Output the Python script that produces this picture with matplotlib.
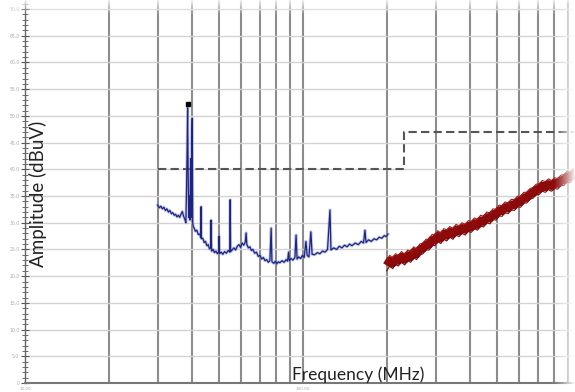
import numpy as np
import matplotlib
matplotlib.use("Agg")
import matplotlib.pyplot as plt
from matplotlib.ticker import FixedLocator, NullFormatter, FixedFormatter

# ---- data ----
blue_freq = [30.0, 30.4, 30.8, 31.2, 31.6, 32.0, 32.4, 32.8, 33.2, 33.6, 34.0, 34.4,
             34.8, 35.2, 35.6, 36.0, 36.4, 36.8, 37.2, 37.6, 37.9,
             38.1, 38.3, 38.45, 38.6, 38.8, 39.0, 39.2, 39.4, 39.6, 39.8, 39.95, 40.1, 40.3,
             40.6, 41.0, 41.5, 42.0, 42.5, 42.9, 43.0, 43.1, 43.6, 44.1, 44.6, 45.1,
             45.6, 46.1, 46.5, 46.7, 46.9, 47.5, 48.0, 48.6, 49.2, 49.8, 49.9, 50.1,
             50.8, 51.5, 52.2, 53.0, 53.8, 54.5, 54.7, 54.9, 55.6, 56.4, 57.2, 58.0,
             58.8, 59.6, 60.4, 61.2, 62.0, 62.4, 62.8, 63.6, 64.4, 65.2, 66.0, 67.0,
             68.0, 69.0, 70.0, 71.0, 72.0, 73.0, 74.0, 75.0, 76.0, 76.8, 77.3, 78.5,
             79.5, 80.5, 81.5, 82.5, 84.0, 85.5, 87.0, 88.0, 88.7, 89.3, 90.5, 92.0,
             93.5, 94.4, 95.2, 96.5, 98.0, 99.5, 101.0, 102.4, 103.5, 105.0, 106.7,
             107.8, 110.0, 112.5, 115.0, 117.5, 120.0, 122.5, 125.0, 126.0, 129.0,
             132.0, 135.0, 138.0, 141.0, 144.0, 147.0, 150.0, 154.0, 158.0, 162.0,
             165.0, 167.0, 168.5, 172.0, 176.0, 180.0, 184.0, 188.0, 192.0, 196.0,
             199.0, 202.0]
blue_level = [33.3, 32.8, 33.1, 32.6, 32.9, 32.3, 32.6, 32.0, 32.3, 31.7, 31.9, 31.4,
              31.6, 31.1, 31.4, 31.0, 31.6, 32.1, 31.2, 30.6, 30.0,
              36.0, 44.0, 51.5, 40.0, 31.0, 35.0, 30.5, 42.0, 31.0, 46.0, 49.5, 30.0, 29.3,
              29.0, 28.4, 28.6, 27.8, 27.9, 27.2, 33.0, 27.0, 27.1, 26.3, 26.5, 25.7,
              25.9, 25.1, 25.3, 30.5, 24.7, 25.0, 24.4, 24.7, 24.2, 24.6, 27.5, 24.2,
              24.5, 24.1, 24.6, 24.3, 24.8, 24.5, 34.3, 24.6, 24.9, 25.3, 24.9, 25.6,
              25.9, 25.4, 26.2, 25.8, 26.4, 28.1, 25.9, 25.3, 25.5, 24.8, 25.0, 24.3,
              24.5, 23.7, 23.9, 23.2, 23.5, 22.9, 23.1, 22.6, 22.9, 29.0, 22.7, 22.4,
              22.8, 22.3, 22.7, 22.5, 22.9, 22.6, 23.1, 22.8, 24.5, 22.9, 23.3, 23.0,
              23.5, 27.7, 23.2, 23.6, 23.3, 23.9, 23.5, 26.5, 23.9, 23.6, 28.3,
              24.1, 24.0, 24.4, 24.2, 24.7, 24.5, 25.0, 32.4, 24.9, 25.3,
              25.0, 25.6, 25.3, 25.8, 25.5, 26.0, 25.7, 26.2, 25.9, 26.5,
              26.2, 28.6, 26.3, 26.8, 26.5, 27.0, 26.8, 27.3, 27.1, 27.6,
              27.4, 27.9]

red_freq = [200, 205, 210, 215, 220, 226, 232, 238, 244, 250, 256, 263, 270, 277,
            284, 291, 298, 305, 313, 321, 329, 337, 346, 355, 364, 373, 383, 393,
            403, 413, 424, 435, 446, 458, 470, 482, 494, 507, 520, 533, 547, 561,
            576, 591, 606, 622, 638, 655, 672, 689, 707, 725, 744, 763, 783, 803,
            824, 846, 868, 890, 913, 937, 961, 986, 1011]
red_level = [22.0, 22.9, 22.4, 23.2, 22.9, 23.6, 23.1, 23.9, 23.6, 24.5, 24.1, 25.0,
             25.2, 25.9, 25.9, 26.8, 26.7, 27.5, 27.1, 27.9, 27.6, 28.3, 27.9, 28.7,
             28.4, 29.0, 28.7, 29.4, 29.2, 29.9, 29.6, 30.4, 30.2, 31.0, 30.8, 31.6,
             31.5, 32.3, 32.2, 32.9, 32.7, 33.4, 33.3, 34.0, 33.9, 34.7, 34.7, 35.4,
             35.6, 36.2, 36.3, 36.9, 36.7, 37.2, 36.9, 37.4, 37.3, 37.9, 38.0, 38.6,
             38.5, 39.1, 39.0, 39.6, 39.5]

limit_freq = [30, 230, 230, 1100]
limit_level = [40, 40, 47, 47]

peak_freq = [38.45]
peak_level = [52.3]

y_ticks = [0, 5, 10, 15, 20, 25, 30, 35, 40, 45, 50, 55, 60, 65, 70]
y_tick_labels = ["0"] + ["%.1f" % v for v in y_ticks[1:]]
x_major = [10, 100]
x_major_labels = ["10.00", "100.00"]
x_minor = [20, 30, 40, 50, 60, 70, 80, 90, 200, 300, 400, 500, 600, 700, 800, 900]

# ---- figure ----
W, H = 575, 392
fig = plt.figure(figsize=(W / 100, H / 100), dpi=100)
ax = fig.add_axes([25 / W, 9 / H, 550 / W, 383 / H])
ax.set_xscale("log")
ax.set_xlim(10, 951)
ax.set_ylim(0, 71.7)

ax.xaxis.set_major_locator(FixedLocator(x_major))
ax.xaxis.set_major_formatter(FixedFormatter(x_major_labels))
ax.xaxis.set_minor_locator(FixedLocator(x_minor))
ax.xaxis.set_minor_formatter(NullFormatter())
ax.yaxis.set_major_locator(FixedLocator(y_ticks))
ax.yaxis.set_major_formatter(FixedFormatter(y_tick_labels))
ax.yaxis.set_minor_locator(FixedLocator(list(range(0, 72))))

ax.grid(True, axis="y", which="major", color="#d2d2d2", lw=1.0, zorder=0)
ax.grid(True, axis="x", which="both", color="#8c8c8c", lw=1.5, zorder=0)

for s in ["top", "right"]:
    ax.spines[s].set_visible(False)
ax.spines["left"].set_color("#666666")
ax.spines["left"].set_linewidth(1.0)
ax.spines["bottom"].set_color("#777777")
ax.spines["bottom"].set_linewidth(1.5)

ax.tick_params(axis="y", which="major", direction="inout", length=6, width=0.8,
               color="#555555", labelsize=3.3, labelcolor="#aaaaaa", pad=1)
ax.tick_params(axis="y", which="minor", direction="inout", length=4, width=0.6,
               color="#555555")
ax.tick_params(axis="x", which="both", length=0, labelsize=3.0,
               labelcolor="#aaaaaa", pad=3)

# limit line
ax.plot(limit_freq, limit_level, color="#555555", lw=1.5,
        linestyle=(0, (4, 2)), zorder=3)

# blue trace
ax.plot(blue_freq, blue_level, color="#8a93d4", lw=2.2, alpha=0.5, zorder=4)
ax.plot(blue_freq, blue_level, color="#1c2480", lw=0.9, zorder=5)
ax.plot(peak_freq, peak_level, marker="s", color="black", ms=3, lw=0, zorder=6)

# red trace
ax.plot(red_freq, red_level, color="#8c0a0a", lw=6, zorder=4,
        solid_capstyle="butt", solid_joinstyle="round")
ax.plot(red_freq, [v + 1.0 for v in red_level], color="#a01818", lw=0.8, zorder=4)
ax.plot(red_freq, [v - 1.0 for v in red_level], color="#7a0808", lw=0.8, zorder=4)

# axis titles
fig.text(38 / W, 1 - 194 / H, "Amplitude (dBuV)", rotation=90, ha="center",
         va="center", fontsize=13.5, family="Lato", color="#222222")
fig.text(358 / W, 1 - 375 / H, "Frequency (MHz)", ha="center", va="center",
         fontsize=12.5, family="Lato", color="#222222")

# edge fade (right & top)
ov = fig.add_axes([0, 0, 1, 1], zorder=20)
ov.axis("off")
xs = np.arange(W)
ys = np.arange(H)
ar = np.clip((xs - (W - 22)) / 22.0, 0, 1) ** 1.2
at = np.clip((14 - ys) / 14.0, 0, 1) * 0.85
alpha = np.maximum(ar[None, :], at[:, None])
img = np.ones((H, W, 4))
img[..., 3] = alpha
ov.imshow(img, extent=[0, 1, 0, 1], aspect="auto", interpolation="bilinear")
ov.set_xlim(0, 1)
ov.set_ylim(0, 1)

fig.savefig("out.png", dpi=100)
